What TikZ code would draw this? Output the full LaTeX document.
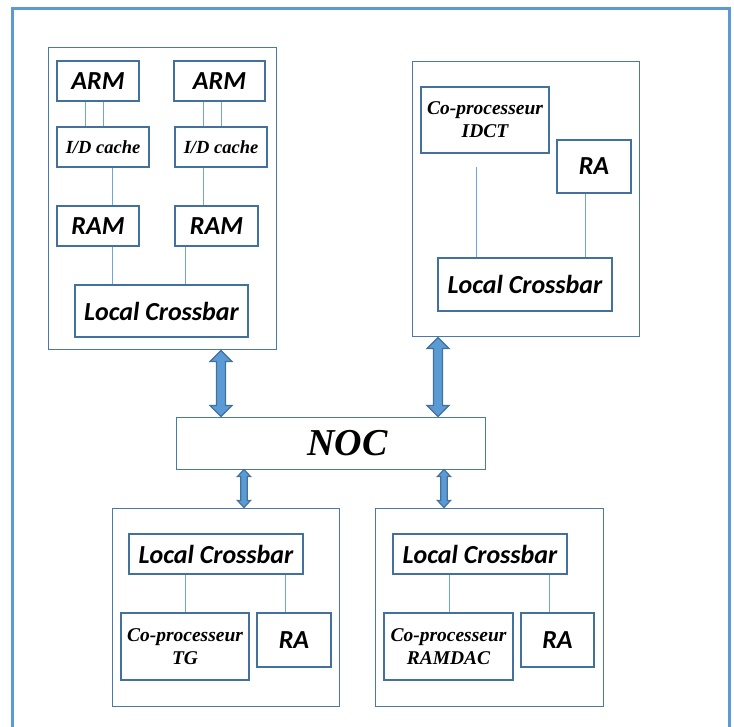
\documentclass[tikz,border=0pt]{standalone}
\usepackage{fontspec}
\setmainfont{Liberation Serif}
\newfontfamily\calfont{Carlito}
\usetikzlibrary{calc}
\definecolor{frameblue}{HTML}{5B9BD5}
\definecolor{boxblue}{HTML}{41719C}
\definecolor{grpblue}{HTML}{4A78A8}
\definecolor{lineblue}{HTML}{6FA5DA}
\definecolor{arrowfill}{HTML}{5B9BD5}
\tikzset{
  outerframe/.style={draw=frameblue, line width=3pt},
  grp/.style={draw=grpblue, line width=1pt, inner sep=0pt},
  cbox/.style={draw=boxblue, line width=2.2pt, fill=white, inner sep=0pt,
    font=\calfont\bfseries\itshape\fontsize{26}{30}\selectfont},
  sbox/.style={draw=boxblue, line width=2.2pt, fill=white, inner sep=0pt, align=center,
    font=\bfseries\itshape\fontsize{19.5}{23}\selectfont},
  conn/.style={draw=lineblue, line width=1pt},
  arr/.style={fill=arrowfill, draw=boxblue, line width=1.2pt, line join=miter},
}
% #1 top point, #2 bottom point, #3 shaft half width, #4 head half width, #5 head length
\newcommand\dblarrow[5]{%
  \path[arr] let \p1=(#1), \p2=(#2) in
    (\x1,\y1) -- (\x1+#4pt,\y1-#5pt) -- (\x1+#3pt,\y1-#5pt) -- (\x1+#3pt,\y2+#5pt)
    -- (\x1+#4pt,\y2+#5pt) -- (\x1,\y2) -- (\x1-#4pt,\y2+#5pt) -- (\x1-#3pt,\y2+#5pt)
    -- (\x1-#3pt,\y1-#5pt) -- (\x1-#4pt,\y1-#5pt) -- cycle;}
\begin{document}
\begin{tikzpicture}[x=1pt,y=-1pt]
\useasboundingbox (0,0) rectangle (734,727);
\fill[white] (0,0) rectangle (734,727);
\draw[outerframe] (12,727) -- (12,9) -- (729,9) -- (729,727);

% groups
\node[grp, minimum width=228pt, minimum height=302pt] (g1) at (162,199) {};
\node[grp, minimum width=227pt, minimum height=275pt] (g2) at (525.5,199.5) {};
\node[grp, minimum width=227pt, minimum height=198pt] (g3) at (225.5,607) {};
\node[grp, minimum width=228pt, minimum height=198pt] (g4) at (489,607) {};

% top-left group
\node[cbox, minimum width=82pt, minimum height=40pt] (arm1) at (98,81) {ARM};
\node[cbox, minimum width=91pt, minimum height=40pt] (arm2) at (219.5,81) {ARM};
\node[sbox, font=\bfseries\itshape\fontsize{18.5}{23}\selectfont, minimum width=92pt, minimum height=40pt] (cache1) at (103,147) {I/D cache};
\node[sbox, font=\bfseries\itshape\fontsize{18.5}{23}\selectfont, minimum width=92pt, minimum height=40pt] (cache2) at (221,147) {I/D cache};
\node[cbox, minimum width=82pt, minimum height=40pt] (ram1) at (98,226) {RAM};
\node[cbox, minimum width=83pt, minimum height=40pt] (ram2) at (216.5,226) {RAM};
\node[cbox, minimum width=173pt, minimum height=52pt] (lc1) at (161.5,311) {Local Crossbar};

% top-right group
\node[sbox, minimum width=128pt, minimum height=66pt] (idct) at (485,120) {Co-processeur\\IDCT};
\node[cbox, minimum width=74pt, minimum height=53pt] (ra2) at (594,166.5) {RA};
\node[cbox, minimum width=174pt, minimum height=53pt] (lc2) at (525,284.5) {Local Crossbar};

% NOC
\node[draw=grpblue, line width=1pt, minimum width=309pt, minimum height=52pt, inner sep=0pt,
  font=\bfseries\itshape\fontsize{38}{44}\selectfont] (noc) at (330.5,443) {\hspace{34pt}NOC};

% bottom-left group
\node[cbox, minimum width=174pt, minimum height=40pt] (lc3) at (216,554) {Local Crossbar};
\node[sbox, minimum width=128pt, minimum height=67pt] (tg) at (185,646.5) {Co-processeur\\TG};
\node[cbox, minimum width=74pt, minimum height=54pt] (ra3) at (294,640) {RA};

% bottom-right group
\node[cbox, minimum width=174pt, minimum height=40pt] (lc4) at (480,554) {Local Crossbar};
\node[sbox, minimum width=129pt, minimum height=67pt] (ramdac) at (448.5,646.5) {Co-processeur\\RAMDAC};
\node[cbox, minimum width=73pt, minimum height=54pt] (ra4) at (557.5,640) {RA};

% x positions of connectors
\coordinate (x85) at (85,0);
\coordinate (x103) at (103,0);
\coordinate (x203) at (203,0);
\coordinate (x221) at (221,0);
\coordinate (x112) at (112,0);
\coordinate (x185) at (185,0);
\coordinate (x585) at (585,0);
\coordinate (x285) at (285,0);
\coordinate (x449) at (449,0);
\coordinate (x549) at (549,0);
\coordinate (x438) at (438,0);
\coordinate (x244) at (244,0);
\coordinate (x444) at (444,0);
\coordinate (idctend) at (476,167);

\draw[conn] (arm1.south -| x85) -- (cache1.north -| x85);
\draw[conn] (arm1.south -| x103) -- (cache1.north -| x103);
\draw[conn] (arm2.south -| x203) -- (cache2.north -| x203);
\draw[conn] (arm2.south -| x221) -- (cache2.north -| x221);
\draw[conn] (cache1.south -| x112) -- (ram1.north -| x112);
\draw[conn] (cache2.south -| x203) -- (ram2.north -| x203);
\draw[conn] (ram1.south -| x112) -- (lc1.north -| x112);
\draw[conn] (ram2.south -| x185) -- (lc1.north -| x185);

\draw[conn] (idctend) -- (lc2.north -| idctend);
\draw[conn] (ra2.south -| x585) -- (lc2.north -| x585);

\draw[conn] (lc3.south -| x185) -- (tg.north -| x185);
\draw[conn] (lc3.south -| x285) -- (ra3.north -| x285);
\draw[conn] (lc4.south -| x449) -- (ramdac.north -| x449);
\draw[conn] (lc4.south -| x549) -- (ra4.north -| x549);

% double arrows
\dblarrow{g1.south -| x221}{noc.north -| x221}{4.5}{11}{11}
\dblarrow{g2.south -| x438}{noc.north -| x438}{4.5}{11}{11}
\dblarrow{noc.south -| x244}{g3.north -| x244}{3.3}{6.5}{7}
\dblarrow{noc.south -| x444}{g4.north -| x444}{3.3}{6.5}{7}
\end{tikzpicture}
\end{document}
